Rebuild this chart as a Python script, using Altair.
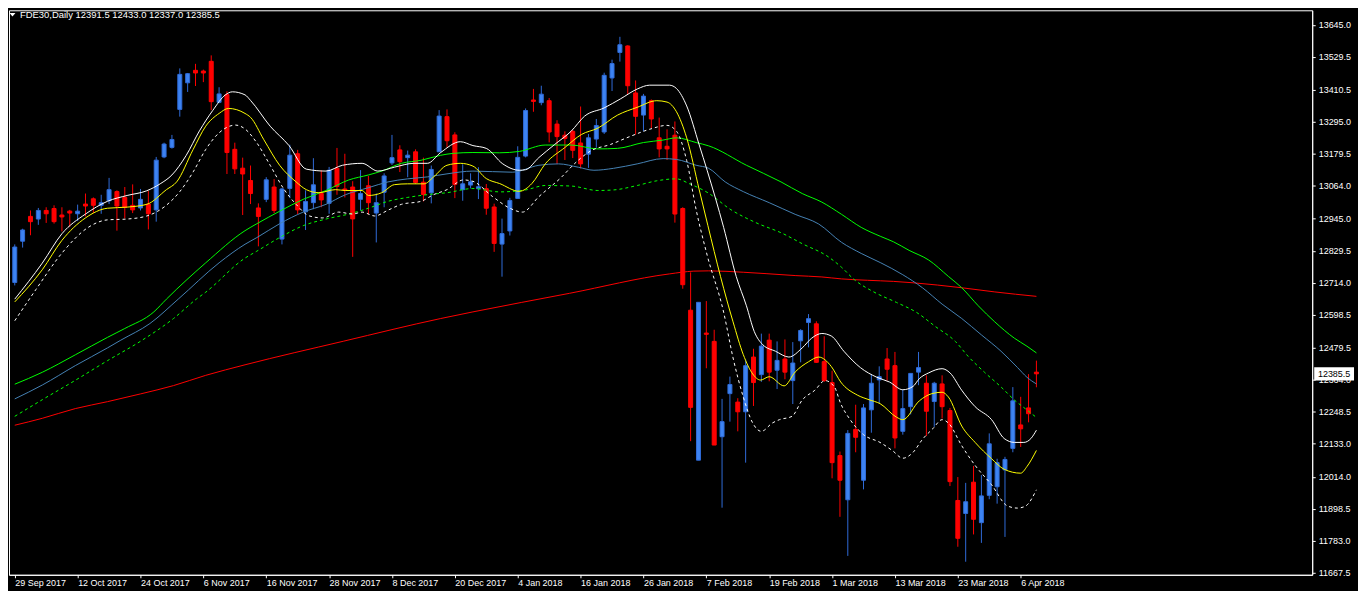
import json
import pandas as pd
import altair as alt

# --- data (bar index = trading day, 0 = 29 Sep 2017) ---
symbol = "FDE30,Daily"
date_labels = ["29 Sep 2017", "12 Oct 2017", "24 Oct 2017", "6 Nov 2017", "16 Nov 2017",
               "28 Nov 2017", "8 Dec 2017", "20 Dec 2017", "4 Jan 2018", "16 Jan 2018",
               "26 Jan 2018", "7 Feb 2018", "19 Feb 2018", "1 Mar 2018", "13 Mar 2018",
               "23 Mar 2018", "6 Apr 2018"]
bars_per_label = 8
price_ticks = [13645.0, 13529.5, 13410.5, 13295.0, 13179.5, 13064.0, 12945.0, 12829.5,
               12714.0, 12598.5, 12479.5, 12364.0, 12248.5, 12133.0, 12014.0, 11898.5,
               11783.0, 11667.5]

opens = [12715.0, 12864.0, 12953.5, 12944.0, 12975.0, 12982.0, 12958.5, 12972.5, 12963.0, 12998.0,
         13017.0, 12993.5, 13010.0, 13043.0, 13022.0, 12993.5, 12984.0, 12998.0, 12977.0, 13168.0,
         13202.5, 13339.5, 13435.5, 13480.5, 13478.0, 13513.0, 13365.0, 13393.0, 13195.5, 13127.5,
         13083.0, 12984.0, 13015.0, 13059.5, 12871.5, 13054.5, 13179.5, 12970.0, 13003.0, 13036.0,
         13000.5, 13127.5, 13052.5, 13059.5, 13015.0, 13064.0, 12965.5, 13040.5, 13146.5, 13193.5,
         13165.5, 13186.5, 13077.0, 13038.5, 13186.5, 13313.5, 13247.5, 13050.0, 13066.5, 13053.5,
         13053.5, 12987.5, 12853.5, 12901.0, 13018.5, 13171.0, 13373.5, 13364.0, 13371.0, 13286.5,
         13246.5, 13260.5, 13218.5, 13178.0, 13232.5, 13258.0, 13453.0, 13545.0, 13568.5, 13399.0,
         13319.0, 13371.0, 13237.0, 13206.5, 13246.5, 12982.0, 12615.0, 12074.0, 12532.5, 12502.5,
         12158.5, 12314.0, 12283.5, 12248.5, 12446.0, 12382.5, 12507.0, 12398.5, 12439.0, 12361.0,
         12504.5, 12570.5, 12566.0, 12429.5, 12354.0, 12090.5, 11931.0, 12185.0, 12001.5, 12255.5,
         12363.5, 12439.0, 12415.0, 12178.0, 12267.0, 12391.5, 12351.5, 12285.5, 12349.0, 12253.0,
         11928.5, 11881.5, 11994.5, 11848.5, 11947.0, 11978.0, 12039.0, 12116.5, 12201.0, 12262.5,
         12391.5]
highs = [12852.5, 12909.0, 12975.0, 12984.0, 12986.5, 12993.5, 12986.5, 12977.0, 12996.0, 13036.0,
         13022.0, 13031.5, 13092.5, 13047.5, 13059.5, 13069.0, 13052.5, 13045.5, 13168.0, 13219.5,
         13247.5, 13487.5, 13471.0, 13504.0, 13483.0, 13534.5, 13419.5, 13405.0, 13219.5, 13165.5,
         13137.0, 13000.5, 13095.0, 13088.0, 13056.0, 13212.0, 13193.5, 13047.5, 13163.5, 13120.0,
         13132.0, 13200.5, 13179.5, 13080.5, 13120.5, 13099.5, 13036.0, 13109.0, 13247.5, 13210.0,
         13191.0, 13195.5, 13165.5, 13137.0, 13337.0, 13339.5, 13257.0, 13141.5, 13109.0, 13131.0,
         13070.5, 12999.5, 12945.5, 13020.5, 13206.5, 13343.0, 13413.5, 13425.0, 13380.5, 13300.5,
         13260.5, 13265.0, 13350.0, 13251.0, 13305.0, 13472.0, 13519.0, 13601.5, 13571.0, 13444.0,
         13395.5, 13375.5, 13310.0, 13267.5, 13296.0, 12986.5, 12751.5, 12643.5, 12648.0, 12544.5,
         12295.0, 12375.5, 12297.5, 12436.5, 12476.0, 12530.5, 12530.5, 12502.5, 12509.5, 12500.0,
         12546.5, 12601.0, 12575.0, 12521.0, 12396.5, 12105.0, 12182.5, 12274.0, 12276.5, 12384.5,
         12412.5, 12478.5, 12464.5, 12328.0, 12387.0, 12464.5, 12380.0, 12356.5, 12380.0, 12262.5,
         12013.0, 11992.0, 12053.0, 12020.0, 12170.5, 12079.0, 12086.0, 12337.5, 12302.5, 12384.5,
         12433.0]
lows = [12704.5, 12841.0, 12885.5, 12923.0, 12930.0, 12927.5, 12899.5, 12916.0, 12937.0, 12953.5,
        12965.5, 12963.0, 12998.0, 12902.0, 12946.5, 12965.5, 12975.0, 12906.5, 12934.5, 13163.5,
        13198.0, 13313.5, 13402.5, 13424.0, 13438.0, 13337.0, 13362.0, 13106.5, 13106.5, 12958.5,
        12998.0, 12845.5, 13005.0, 12965.5, 12852.5, 13019.5, 12961.0, 12904.5, 12979.5, 12986.5,
        12963.0, 13031.5, 13022.0, 12807.5, 12975.0, 12961.0, 12859.5, 12986.5, 13139.0, 13113.5,
        13095.0, 13071.0, 13007.5, 13000.5, 13186.5, 13203.0, 13019.5, 13010.0, 13054.5, 13016.0,
        12959.5, 12825.5, 12736.0, 12884.5, 13018.5, 13166.5, 13331.0, 13354.5, 13220.5, 13143.0,
        13157.0, 13164.0, 13126.5, 13128.5, 13201.5, 13251.0, 13406.0, 13512.0, 13394.5, 13248.5,
        13260.5, 13272.0, 13166.5, 13157.0, 12931.0, 12692.5, 12142.5, 12074.0, 12405.5, 12128.5,
        11902.5, 12213.0, 12178.0, 12065.0, 12269.5, 12356.5, 12358.5, 12330.5, 12366.0, 12276.5,
        12427.0, 12481.0, 12424.5, 12356.5, 12008.5, 11869.5, 11728.5, 12102.5, 11968.5, 12173.0,
        12280.0, 12361.0, 12116.5, 12166.0, 12239.0, 12344.5, 12161.0, 12194.0, 12224.5, 11980.5,
        11761.5, 11707.5, 11806.0, 11775.5, 11933.0, 11917.0, 11797.0, 12102.5, 12121.5, 12210.5,
        12337.0]
closes = [12843.0, 12904.5, 12934.5, 12975.0, 12963.0, 12934.5, 12951.5, 12965.5, 12972.5, 12991.0,
          12993.5, 13003.0, 13050.0, 12991.0, 12986.5, 12977.0, 13015.0, 12963.0, 13156.5, 13214.5,
          13231.0, 13466.0, 13468.5, 13471.0, 13471.0, 13367.5, 13395.5, 13184.0, 13125.0, 13106.5,
          13036.0, 12953.5, 13085.5, 12975.0, 13052.5, 13174.5, 12977.0, 13007.5, 13067.5, 13013.0,
          13120.0, 13061.5, 13047.5, 12944.5, 13036.0, 13003.0, 13003.0, 13099.5, 13165.5, 13151.0,
          13174.5, 13076.0, 13032.5, 13123.0, 13315.5, 13226.5, 13069.0, 13071.0, 13078.5, 13060.5,
          12983.0, 12856.0, 12891.5, 13011.0, 13166.5, 13335.5, 13368.5, 13394.5, 13258.0, 13241.5,
          13234.5, 13192.0, 13143.0, 13237.0, 13281.5, 13462.5, 13505.0, 13573.0, 13425.0, 13314.5,
          13387.5, 13305.0, 13197.0, 13197.0, 12962.0, 12707.0, 12264.5, 12643.5, 12528.0, 12128.5,
          12213.0, 12347.0, 12248.5, 12415.0, 12354.0, 12485.5, 12391.5, 12434.0, 12391.5, 12424.5,
          12542.0, 12584.5, 12427.0, 12361.0, 12065.0, 12001.5, 12170.5, 12156.5, 12262.5, 12351.5,
          12375.5, 12402.0, 12154.0, 12260.0, 12387.0, 12408.0, 12250.5, 12351.5, 12267.0, 11996.5,
          11792.0, 11924.0, 11860.5, 11945.0, 12133.0, 12065.0, 12076.5, 12288.0, 12187.0, 12241.5,
          12385.5]

# indicator lines, as (bar, price) pairs
upper_white = [(0, 12655), (3.5, 12785), (6, 12891), (9, 12962), (11.8, 13008), (14.3, 13029),
               (16.8, 13046), (18.5, 13071), (20, 13103), (21.8, 13173), (23.5, 13262), (25.2, 13336),
               (26.8, 13392), (27.7, 13403), (29.3, 13392), (30, 13372), (32.5, 13279), (34.9, 13209),
               (37.1, 13124), (39.6, 13117), (41.7, 13138), (44.2, 13145), (46.2, 13117), (48.3, 13131),
               (50.8, 13145), (52.5, 13145), (54.2, 13184), (56.7, 13223), (58.3, 13209), (60, 13199),
               (62.1, 13143), (64.2, 13120), (65, 13122), (66.7, 13166), (68.7, 13213), (70.8, 13261),
               (72.5, 13315), (75, 13345), (77.1, 13378), (79.2, 13413), (80.8, 13427), (83.3, 13427),
               (84.2, 13415), (85.5, 13352), (87.1, 13211), (88.1, 13120), (90.2, 12914), (91.8, 12737),
               (93.1, 12631), (94.1, 12538), (95.2, 12490), (96.8, 12467), (98.5, 12446), (100.2, 12479),
               (101.4, 12514), (102.7, 12531), (103.9, 12522), (105.5, 12467), (107.6, 12408),
               (109.7, 12373), (111.3, 12356), (113, 12328), (114.3, 12340), (115.1, 12368),
               (116.3, 12389), (118, 12404), (119, 12389), (120.5, 12326), (122.2, 12267),
               (124.3, 12220), (125.9, 12152), (127.2, 12138), (128.4, 12138), (129.3, 12152),
               (130, 12182)]
middle_yellow = [(0, 12645), (3.5, 12761), (6, 12867), (9, 12948), (11.8, 12983), (14.3, 12987),
                 (16.8, 12997), (19.3, 13050), (20.6, 13078), (22.7, 13195), (24.3, 13279), (26, 13325),
                 (27.2, 13343), (29.3, 13325), (30, 13311), (31.7, 13230), (33.7, 13138), (35.8, 13078),
                 (37.1, 13050), (38.7, 13039), (40.8, 13050), (42.1, 13047), (44.2, 13047), (45, 13029),
                 (46.7, 13039), (48.3, 13068), (50, 13071), (52.1, 13071), (53.3, 13096), (55, 13138),
                 (56.7, 13145), (58.3, 13135), (60, 13090), (61.7, 13072), (64.2, 13044), (65.8, 13072),
                 (67.5, 13143), (70, 13202), (72.1, 13249), (74.2, 13272), (76.7, 13319), (79.2, 13347),
                 (81.7, 13371), (83, 13366), (84.2, 13331), (85.5, 13237), (87.1, 13049), (88.2, 12920),
                 (89.8, 12737), (91.4, 12573), (92.7, 12455), (93.9, 12385), (94.9, 12363), (96, 12375),
                 (97.9, 12342), (99.3, 12392), (101, 12429), (102.3, 12446), (103.9, 12412),
                 (105.1, 12356), (107.2, 12309), (108.7, 12292), (110.1, 12278), (112.2, 12229),
                 (113, 12220), (115.1, 12288), (116.7, 12314), (118, 12319), (118.8, 12302),
                 (120.5, 12197), (122.2, 12138), (124.3, 12079), (125.9, 12041), (128, 12027),
                 (128.8, 12051), (130, 12109)]
lower_white = [(0, 12577), (2.7, 12690), (6, 12821), (9.3, 12913), (11.8, 12941), (14.3, 12944),
               (16.8, 12955), (19.3, 12994), (21, 13043), (22.7, 13114), (24.3, 13195), (26, 13255),
               (28.1, 13283), (29.3, 13269), (30.8, 13219), (32.5, 13138), (34.2, 13054), (35.8, 12997),
               (37.5, 12955), (39.2, 12948), (41.2, 12969), (43, 12962), (44.2, 12969), (45.8, 12955),
               (47.5, 12976), (49.2, 12997), (51.7, 13008), (53.3, 13032), (55, 13050), (57.1, 13085),
               (58.3, 13080), (60.8, 13025), (63, 12983), (64.6, 12969), (66.7, 13025), (69.6, 13096),
               (71.2, 13143), (73.3, 13190), (75.8, 13213), (78.3, 13242), (80.8, 13268), (83, 13282),
               (84.2, 13261), (85.5, 13155), (86.7, 12978), (88.1, 12814), (90.2, 12608), (91.4, 12443),
               (92.7, 12302), (93.9, 12208), (95, 12178), (96.4, 12208), (97.3, 12220), (98.9, 12232),
               (100.2, 12291), (101.8, 12326), (103.1, 12361), (104.3, 12338), (105.1, 12278),
               (106.3, 12220), (108, 12166), (110.1, 12138), (111.7, 12108), (113, 12081),
               (114.3, 12102), (115.5, 12149), (116.8, 12187), (118, 12220), (118.8, 12208),
               (120.5, 12126), (122.2, 12055), (124.3, 11985), (126.3, 11909), (127.6, 11901),
               (128.6, 11908), (130, 11967)]
upper_green = [(0, 12348), (3.5, 12391), (7.7, 12454), (11.8, 12517), (14, 12549), (17.7, 12609),
               (19.3, 12655), (24.3, 12786), (29.3, 12902), (30.8, 12927), (33.7, 12972), (36.7, 13015),
               (39.6, 13047), (42.5, 13085), (45, 13103), (46.7, 13117), (49.2, 13145), (51.7, 13156),
               (54.2, 13174), (55.8, 13181), (58.3, 13184), (61.7, 13183), (64.2, 13188), (67.5, 13211),
               (70.8, 13211), (74.2, 13197), (76.7, 13199), (80, 13220), (82.5, 13229), (84.2, 13237),
               (86.7, 13220), (88.3, 13208), (93.1, 13138), (97.5, 13078), (100.2, 13036),
               (102.7, 13005), (105.2, 12961), (107.7, 12914), (110.2, 12881), (111.8, 12862),
               (113.8, 12831), (116.3, 12796), (118.8, 12737), (120.5, 12696), (122.6, 12631),
               (124.7, 12573), (127.2, 12514), (128.8, 12485), (130, 12461)]
middle_blue = [(0, 12295), (3.5, 12345), (7.7, 12415), (11.8, 12479), (13.5, 12507), (17.2, 12567),
               (20.8, 12655), (26, 12786), (29.3, 12853), (30.8, 12877), (33.7, 12927), (36.7, 12969),
               (39.6, 12997), (42.1, 13032), (45, 13057), (47.5, 13078), (50, 13089), (52.5, 13096),
               (55, 13107), (58.3, 13117), (63.3, 13113), (66.7, 13138), (69.2, 13143), (71.7, 13131),
               (73.7, 13120), (76.2, 13127), (79.2, 13143), (82.5, 13162), (84.2, 13159), (86.7, 13138),
               (88.3, 13127), (90.4, 13078), (92.7, 13043), (96, 13003), (99.3, 12961), (102.3, 12926),
               (105.2, 12860), (107.7, 12820), (110.2, 12786), (113, 12743), (115.5, 12696),
               (118, 12637), (120.5, 12585), (123, 12526), (125.5, 12467), (127.6, 12408),
               (128.8, 12373), (130, 12349)]
lower_green = [(0, 12232), (3.5, 12292), (7.7, 12362), (11.8, 12433), (16, 12503), (20.2, 12585),
               (23.1, 12655), (24.3, 12680), (29.3, 12803), (30.8, 12828), (33.7, 12877), (36.7, 12920),
               (39.6, 12944), (42.5, 12962), (45, 12983), (47.5, 13008), (50, 13022), (52.5, 13032),
               (55, 13039), (58.3, 13054), (61.7, 13042), (65, 13049), (67.5, 13065), (70.8, 13063),
               (74.2, 13047), (76.2, 13049), (79.2, 13065), (81.7, 13082), (84.2, 13089), (85.8, 13072),
               (88.3, 13037), (91, 12980), (94.3, 12931), (97.7, 12892), (100.2, 12855), (103.5, 12808),
               (105.2, 12770), (106.8, 12726), (109.3, 12681), (112.2, 12643), (114.7, 12608),
               (117.2, 12555), (119.7, 12502), (121.3, 12449), (123.4, 12391), (125.5, 12338),
               (127.2, 12291), (128.8, 12255), (130, 12228)]
slow_red = [(0, 12200), (3.5, 12225), (7.7, 12260), (11.8, 12285), (16, 12313), (20.2, 12343),
            (24.3, 12380), (29.3, 12418), (41.8, 12503), (54.2, 12585), (58.3, 12609),
            (70.6, 12676), (83.3, 12746), (86.4, 12756), (88.3, 12757), (92.7, 12752), (95.6, 12747),
            (99.3, 12740), (102.7, 12735), (105.2, 12728), (108.5, 12723), (111.8, 12719),
            (114.3, 12714), (120.5, 12696), (124.7, 12681), (130, 12665)]

# --- styling ---
W, H = 1309, 567
FONT = "Liberation Sans"
UP_FILL, UP_EDGE = "#3d83f2", "#2f6bd8"
DOWN = "#ff0000"

candles = pd.DataFrame({"bar": range(len(opens)), "open": opens, "high": highs,
                        "low": lows, "close": closes})
candles["sens"] = ["hausse" if c >= o else "baisse" for o, c in zip(opens, closes)]

x_scale = alt.Scale(domain=[-0.1, 164.46], nice=False, zero=False)
y_scale = alt.Scale(domain=[11660.4, 13697.2], nice=False, zero=False)

label_expr = json.dumps(date_labels) + f"[round(datum.value / {bars_per_label})]"
x_axis = alt.Axis(
    title=None, values=list(range(0, bars_per_label * len(date_labels), bars_per_label)),
    labelExpr=label_expr, labelAlign="left", labelBaseline="top", labelPadding=1,
    labelFlush=False, labelOverlap=False, labelBound=False, tickSize=3, grid=False
)
y_axis = alt.Axis(
    title=None, orient="right", values=price_ticks, format=".1f", labelAlign="left",
    labelBaseline="middle", labelPadding=3, labelFlush=False, labelOverlap=False,
    tickSize=3, grid=False
)


def enc_x(field):
    return alt.X(f"{field}:Q", scale=x_scale, axis=x_axis)


def enc_y(field):
    return alt.Y(f"{field}:Q", scale=y_scale, axis=y_axis)


fill_scale = alt.Scale(domain=["hausse", "baisse"], range=[UP_FILL, DOWN])
edge_scale = alt.Scale(domain=["hausse", "baisse"], range=[UP_EDGE, DOWN])

wicks = alt.Chart(candles).mark_rule(strokeWidth=1, clip=True).encode(
    x=enc_x("bar"), y=enc_y("low"), y2="high:Q",
    color=alt.Color("sens:N", scale=edge_scale, legend=None)
)
bodies = alt.Chart(candles).mark_bar(size=4, strokeWidth=1, clip=True).encode(
    x=enc_x("bar"), y=enc_y("open"), y2="close:Q",
    fill=alt.Fill("sens:N", scale=fill_scale, legend=None),
    stroke=alt.Stroke("sens:N", scale=edge_scale, legend=None)
)

line_specs = [
    (slow_red, "#ff0000", False),
    (lower_green, "#00ff00", True),
    (middle_blue, "#4682b4", False),
    (upper_green, "#00ff00", False),
    (lower_white, "#ffffff", True),
    (middle_yellow, "#ffff00", False),
    (upper_white, "#ffffff", False),
]
lines = []
for points, colour, dashed in line_specs:
    df = pd.DataFrame(points, columns=["bar", "valeur"])
    style = dict(color=colour, strokeWidth=1, clip=True, interpolate="monotone")
    if dashed:
        style["strokeDash"] = [3, 3]
    lines.append(alt.Chart(df).mark_line(**style).encode(x=enc_x("bar"), y=enc_y("valeur")))

last = candles.tail(1)
price_box = alt.Chart(last).mark_point(
    shape="M-1,-0.33L1,-0.33L1,0.33L-1,0.33Z", size=1600, filled=True,
    fill="#ffffff", strokeWidth=0, opacity=1, clip=False
).encode(x=alt.value(W + 22), y=enc_y("close"))
price_text = alt.Chart(last).mark_text(
    font=FONT, fontSize=9, color="#000000", align="center", baseline="middle", clip=False
).encode(x=alt.value(W + 22), y=enc_y("close"), text=alt.Text("close:Q", format=".1f"))

o, h, l, c = opens[-1], highs[-1], lows[-1], closes[-1]
header = pd.DataFrame({"titre": [f"{symbol}  {o:.1f} {h:.1f} {l:.1f} {c:.1f}"]})
header_text = alt.Chart(header).mark_text(
    font=FONT, fontSize=9.5, color="#ffffff", align="left", baseline="alphabetic"
).encode(x=alt.value(11), y=alt.value(8), text="titre:N")
header_arrow = alt.Chart(header).mark_point(
    shape="M-1,-0.55L1,-0.55L0,0.55Z", size=36, filled=True, color="#ffffff", opacity=1
).encode(x=alt.value(3.5), y=alt.value(4.5))

chart = alt.layer(
    wicks, bodies, *lines, price_box, price_text, header_text, header_arrow
).properties(
    width=W, height=H,
    autosize=alt.AutoSizeParams(type="none"),
    padding={"left": 1, "top": 1, "right": 46, "bottom": 15},
    background="#000000"
).configure_view(
    stroke="#ffffff", strokeWidth=1
).configure_axis(
    domainColor="#ffffff", tickColor="#ffffff", labelColor="#ffffff",
    labelFont=FONT, labelFontSize=9
)

chart.save("out.html", embed_options={"renderer": "svg", "actions": False})
